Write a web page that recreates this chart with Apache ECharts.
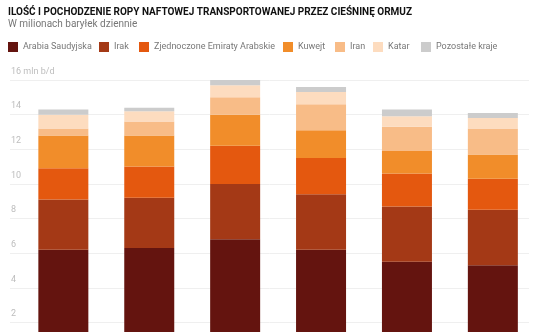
<!DOCTYPE html>
<html>
<head>
<meta charset="utf-8">
<script src="https://cdn.jsdelivr.net/npm/echarts@6/dist/echarts.min.js"></script>
<style>
  html, body { margin: 0; padding: 0; background: #fff; }
  #chart { width: 536px; height: 332px; }
</style>
</head>
<body>
<div id="chart"></div>
<script>
// dane (mln baryłek dziennie)
const years = ['2014', '2015', '2016', '2017', '2018', '2019']
const countries = ['Arabia Saudyjska', 'Irak', 'Zjednoczone Emiraty Arabskie', 'Kuwejt', 'Iran', 'Katar', 'Pozostałe kraje']
const saudi = [6.2, 6.3, 6.8, 6.2, 5.5, 5.3]
const iraq = [2.9, 2.9, 3.2, 3.2, 3.2, 3.2]
const uae = [1.8, 1.8, 2.2, 2.1, 1.9, 1.8]
const kuwait = [1.9, 1.8, 1.8, 1.6, 1.3, 1.4]
const iran = [0.4, 0.8, 1.0, 1.5, 1.4, 1.5]
const qatar = [0.8, 0.6, 0.7, 0.7, 0.6, 0.6]
const others = [0.3, 0.2, 0.3, 0.3, 0.4, 0.3]
const yTicks = [0, 2, 4, 6, 8, 10, 12, 14, 16]

const colors = ['#64140f', '#a43916', '#e4580f', '#f18d2a', '#f8bc87', '#fddcbf', '#cccccc']
const seriesData = [saudi, iraq, uae, kuwait, iran, qatar, others]
// lewa krawędź każdej pozycji legendy
const legendLeft = [8, 99, 139, 283, 335, 373, 421]

const chart = echarts.init(document.getElementById('chart'), null, { renderer: 'canvas' })

const font = 'Roboto, sans-serif'

const option = {
  animation: false,
  title: {
    text: 'ILOŚĆ I POCHODZENIE ROPY NAFTOWEJ TRANSPORTOWANEJ PRZEZ CIEŚNINĘ ORMUZ',
    subtext: 'W milionach baryłek dziennie',
    left: 8,
    top: 6,
    padding: 0,
    itemGap: 0,
    textStyle: { fontFamily: font, fontSize: 10, lineHeight: 12, fontWeight: 'bold', color: '#111' },
    subtextStyle: { fontFamily: font, fontSize: 10, lineHeight: 12, color: '#777' }
  },
  legend: countries.map((name, i) => ({
    data: [name],
    left: legendLeft[i],
    top: 42,
    icon: 'rect',
    itemWidth: 10,
    itemHeight: 10,
    padding: 0,
    textStyle: { fontFamily: font, fontSize: 9, color: '#777' }
  })),
  grid: [
    { left: 10, right: 7, top: 80, height: 277, outerBoundsMode: 'none' },
    { left: 20.4, right: 0.2, top: 80, height: 277, outerBoundsMode: 'none' }
  ],
  xAxis: [
    { type: 'category', gridIndex: 0, data: years, show: false },
    {
      type: 'category', gridIndex: 1, data: years,
      axisLine: { show: false }, axisTick: { show: false },
      axisLabel: { color: '#999', fontFamily: font }
    }
  ],
  yAxis: [
    {
      type: 'value', gridIndex: 0, min: 0, max: 16, interval: 2,
      axisLine: { show: false }, axisTick: { show: false },
      splitLine: { lineStyle: { color: '#efefef', width: 1 } },
      axisLabel: {
        inside: true,
        margin: 1,
        verticalAlign: 'bottom',
        padding: [0, 0, 4, 0],
        color: '#bdbdbd',
        fontFamily: font,
        fontSize: 9,
        formatter: v => (yTicks.indexOf(v) === yTicks.length - 1 ? v + ' mln b/d' : String(v))
      }
    },
    { type: 'value', gridIndex: 1, min: 0, max: 16, interval: 2, show: false }
  ],
  series: seriesData.map((d, i) => ({
    name: countries[i],
    type: 'bar',
    stack: 'total',
    xAxisIndex: 1,
    yAxisIndex: 1,
    barWidth: 50,
    data: d,
    itemStyle: { color: colors[i] }
  }))
}

chart.setOption(option)
</script>
</body>
</html>
